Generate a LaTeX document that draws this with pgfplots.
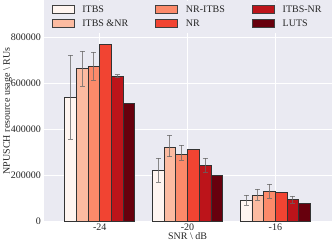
\documentclass[border=0pt]{standalone}
\usepackage{pgfplots}
\pgfplotsset{compat=1.18}
\usepackage{fontspec}
\setmainfont{Liberation Serif}
\definecolor{bg}{HTML}{EAEAF2}
\definecolor{c1}{HTML}{FFF5F0}
\definecolor{c2}{HTML}{FCBBA1}
\definecolor{c3}{HTML}{FC8A6A}
\definecolor{c4}{HTML}{F14432}
\definecolor{c5}{HTML}{BC141A}
\definecolor{c6}{HTML}{67000D}
\definecolor{txt}{HTML}{262626}
\pgfplotsset{
  myleg/.style={legend image code/.code={\draw[#1,draw=black!75,line width=0.8pt] (0pt,-3.5pt) rectangle (22pt,4pt);}},
  myerr/.style={
    error bars/y dir=both, error bars/y explicit,
    error bars/error bar style={draw=gray!80!black, opacity=0.75, line width=1pt},
    error bars/error mark options={draw=gray!80!black, opacity=0.75, line width=1pt, mark size=2.5pt, rotate=90}},
  noerr/.style={error bars/y dir=none},
}
\begin{document}
\begin{tikzpicture}
\begin{axis}[
  scale only axis, width=288pt, height=221pt,
  xmin=-0.64, xmax=2.64, ymin=0, ymax=960000,
  ybar=0pt, bar width=0.13333,
  axis background/.style={fill=bg},
  axis line style={draw=none},
  major tick length=0pt,
  grid=major, major grid style={white, line width=0.8pt},
  xtick={0,1,2}, xticklabels={-24,-20,-16},
  ytick={0,200000,400000,600000,800000},
  scaled y ticks=false,
  /pgf/number format/fixed, /pgf/number format/1000 sep={},
  /pgf/number format/assume math mode=true,
  tick label style={font=\fontsize{10}{12}\selectfont, text=txt},
  yticklabel style={xshift=1pt},
  xticklabel style={yshift=1pt},
  xlabel={SNR \textbackslash\ dB}, ylabel={NPUSCH resource usage \textbackslash\ RUs},
  label style={font=\fontsize{10}{12}\selectfont, text=txt},
  xlabel style={yshift=5pt},
  ylabel style={yshift=-8pt},
  legend columns=2, transpose legend,
  legend style={at={(0.5,1)}, anchor=north, draw=none, fill=bg, font=\fontsize{10}{12}\selectfont, text=txt,
    /tikz/every odd column/.append style={column sep=6pt},
    /tikz/every even column/.append style={column sep=25pt}, row sep=2pt, inner sep=3pt},
  legend cell align=left,
  every axis plot/.append style={draw=black!80, line width=0.8pt, myleg, myerr},
]
\addplot[fill=c1] table[x=x,y=y,y error plus=ep,y error minus=em] {
x y ep em
0 539000 183000 182000
1 222000 52000 52000
2 91000 22000 21000
};
\addplot[fill=c2] table[x=x,y=y,y error plus=ep,y error minus=em] {
x y ep em
0 665000 74000 78000
1 322000 52000 42000
2 113000 26000 22000
};
\addplot[fill=c3] table[x=x,y=y,y error plus=ep,y error minus=em] {
x y ep em
0 674000 61000 61000
1 291000 39000 26000
2 130000 31000 30000
};
\addplot[fill=c4, noerr] table[x=x,y=y] {
x y
0 770000
1 313000
2 126000
};
\addplot[fill=c5] table[x=x,y=y,y error plus=ep,y error minus=em] {
x y ep em
0 630000 7000 7000
1 243000 31000 30000
2 96000 13000 18000
};
\addplot[fill=c6, noerr] table[x=x,y=y] {
x y
0 513000
1 200000
2 78000
};
\legend{ITBS, ITBS \&NR, NR-ITBS, NR, ITBS-NR, LUTS}
\end{axis}
\end{tikzpicture}
\end{document}
